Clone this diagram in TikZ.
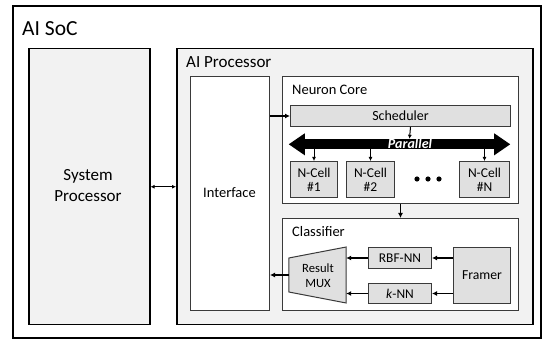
\documentclass[tikz,border=0pt]{standalone}
\usepackage{fontspec}
\setmainfont{Carlito}
\usetikzlibrary{arrows.meta,calc}
\definecolor{lightbg}{HTML}{F2F2F2}
\definecolor{boxgray}{HTML}{E0E0E0}
\definecolor{edgegray}{HTML}{3A3A3A}
\begin{document}
\begin{tikzpicture}[x=1pt,y=-1pt,
  region/.style={draw=black, line width=1.5pt, fill=lightbg, inner sep=0pt, anchor=north west},
  panel/.style={draw=edgegray, line width=1pt, fill=white, inner sep=0pt, anchor=north west},
  unit/.style={draw=edgegray, line width=1pt, fill=boxgray, inner sep=0pt, align=center, anchor=north west},
  lbl/.style={anchor=west, inner sep=0pt},
  arr/.style={-{Latex[length=4pt,width=4pt]}, line width=1pt},
  barr/.style={-{Latex[length=5pt,width=5pt]}, line width=1.8pt},
]
\useasboundingbox (0,0) rectangle (544,339);
\fill[white] (0,0) rectangle (544,339);
% outer SoC
\node[draw=black, line width=2pt, minimum width=528, minimum height=332, inner sep=0pt, anchor=north west] (soc) at (12,5) {};
\node[lbl, font=\fontsize{21.5}{25}\selectfont] (soclbl) at (22,29) {AI SoC};
% system processor
\node[region, minimum width=121, minimum height=276] (sys) at (28,48) {};
\node[align=center, font=\fontsize{17}{21}\selectfont] (systxt) at (88,186) {System\\Processor};
% AI processor
\node[region, minimum width=356, minimum height=276] (aip) at (176,48) {};
\node[lbl, font=\fontsize{17}{20}\selectfont] (aiplbl) at (186,62) {AI Processor};
% interface
\node[panel, minimum width=79, minimum height=234] (iface) at (190,76) {};
\node[font=\fontsize{14.5}{17}\selectfont] (ifacetxt) at (229.5,193) {Interface};
% neuron core
\node[panel, minimum width=236, minimum height=127] (nc) at (282,76) {};
\node[lbl, font=\fontsize{14.5}{17}\selectfont] (nclbl) at (292,90) {Neuron Core};
\node[unit, minimum width=220, minimum height=21, font=\fontsize{14}{16}\selectfont] (sched) at (290,105) {Scheduler};
% parallel bus
\node[fill=black, minimum width=189, minimum height=10, inner sep=0pt] (par) at (399.5,144) {};
\fill[black] (par.north west) -- ++(0,-5.5) -- ++(-16,11) -- ++(16,11) -- (par.south west) -- cycle;
\fill[black] (par.north east) -- ++(0,-5.5) -- ++(16,11) -- ++(-16,11) -- (par.south east) -- cycle;
\node[text=white, inner sep=0pt, font=\fontsize{14}{15}\selectfont\bfseries\itshape] (partxt) at (410,143.5) {Parallel};
% N-cells
\node[unit, minimum width=47, minimum height=36, font=\fontsize{13.5}{14}\selectfont] (n1) at (290,161) {N-Cell\\\#1};
\node[unit, minimum width=48, minimum height=36, font=\fontsize{13.5}{14}\selectfont] (n2) at (346,161) {N-Cell\\\#2};
\node[unit, minimum width=50, minimum height=36, font=\fontsize{13.5}{14}\selectfont] (nN) at (459,161) {N-Cell\\\#N};
\fill[black] (417,179) circle (2.6) (428,179) circle (2.6) (439,179) circle (2.6);
% classifier
\node[panel, minimum width=236, minimum height=92] (cls) at (282,218) {};
\node[lbl, font=\fontsize{14.5}{17}\selectfont] (clslbl) at (292,232) {Classifier};
\node[minimum width=57, minimum height=56, inner sep=0pt] (mux) at (317.5,275) {};
\filldraw[fill=boxgray, draw=edgegray, line width=1pt] ($(mux.west)+(0,-17)$) -- ($(mux.east)+(0,-28)$) -- ($(mux.east)+(0,28)$) -- ($(mux.west)+(0,17)$) -- cycle;
\node[align=center, font=\fontsize{12.6}{15}\selectfont] (muxtxt) at (318,276) {Result\\MUX};
\node[unit, minimum width=63, minimum height=21, font=\fontsize{13.4}{15}\selectfont] (rbf) at (368,247) {RBF-NN};
\node[unit, minimum width=63, minimum height=20, font=\fontsize{13.4}{15}\selectfont] (knn) at (368,283) {\textit{k}-NN};
\node[unit, minimum width=57, minimum height=56, font=\fontsize{13.7}{15}\selectfont] (framer) at (453,247) {Framer};
% connectors
\draw[{Latex[length=4pt,width=4pt]}-{Latex[length=4pt,width=4pt]}, line width=1.3pt] (sys.east) -- (sys.east -| aip.west);
\draw[barr] (iface.east |- sched.west) -- (sched.west);
\draw[arr] ($(sched.south)+(10,0)$) -- ($(par.north)+(10,0)$);
\draw[arr] (n1.north |- par.south) -- (n1.north);
\draw[arr] (n2.north |- par.south) -- (n2.north);
\draw[arr] (nN.north |- par.south) -- (nN.north);
\draw[barr] (nc.south) -- (cls.north);
\draw[barr] (framer.west |- rbf.east) -- (rbf.east);
\draw[barr] (framer.west |- knn.east) -- (knn.east);
\draw[barr] (rbf.west) -- (rbf.west -| mux.east);
\draw[barr] (knn.west) -- (knn.west -| mux.east);
\draw[barr] (mux.west) -- (mux.west -| iface.east);
\end{tikzpicture}
\end{document}
